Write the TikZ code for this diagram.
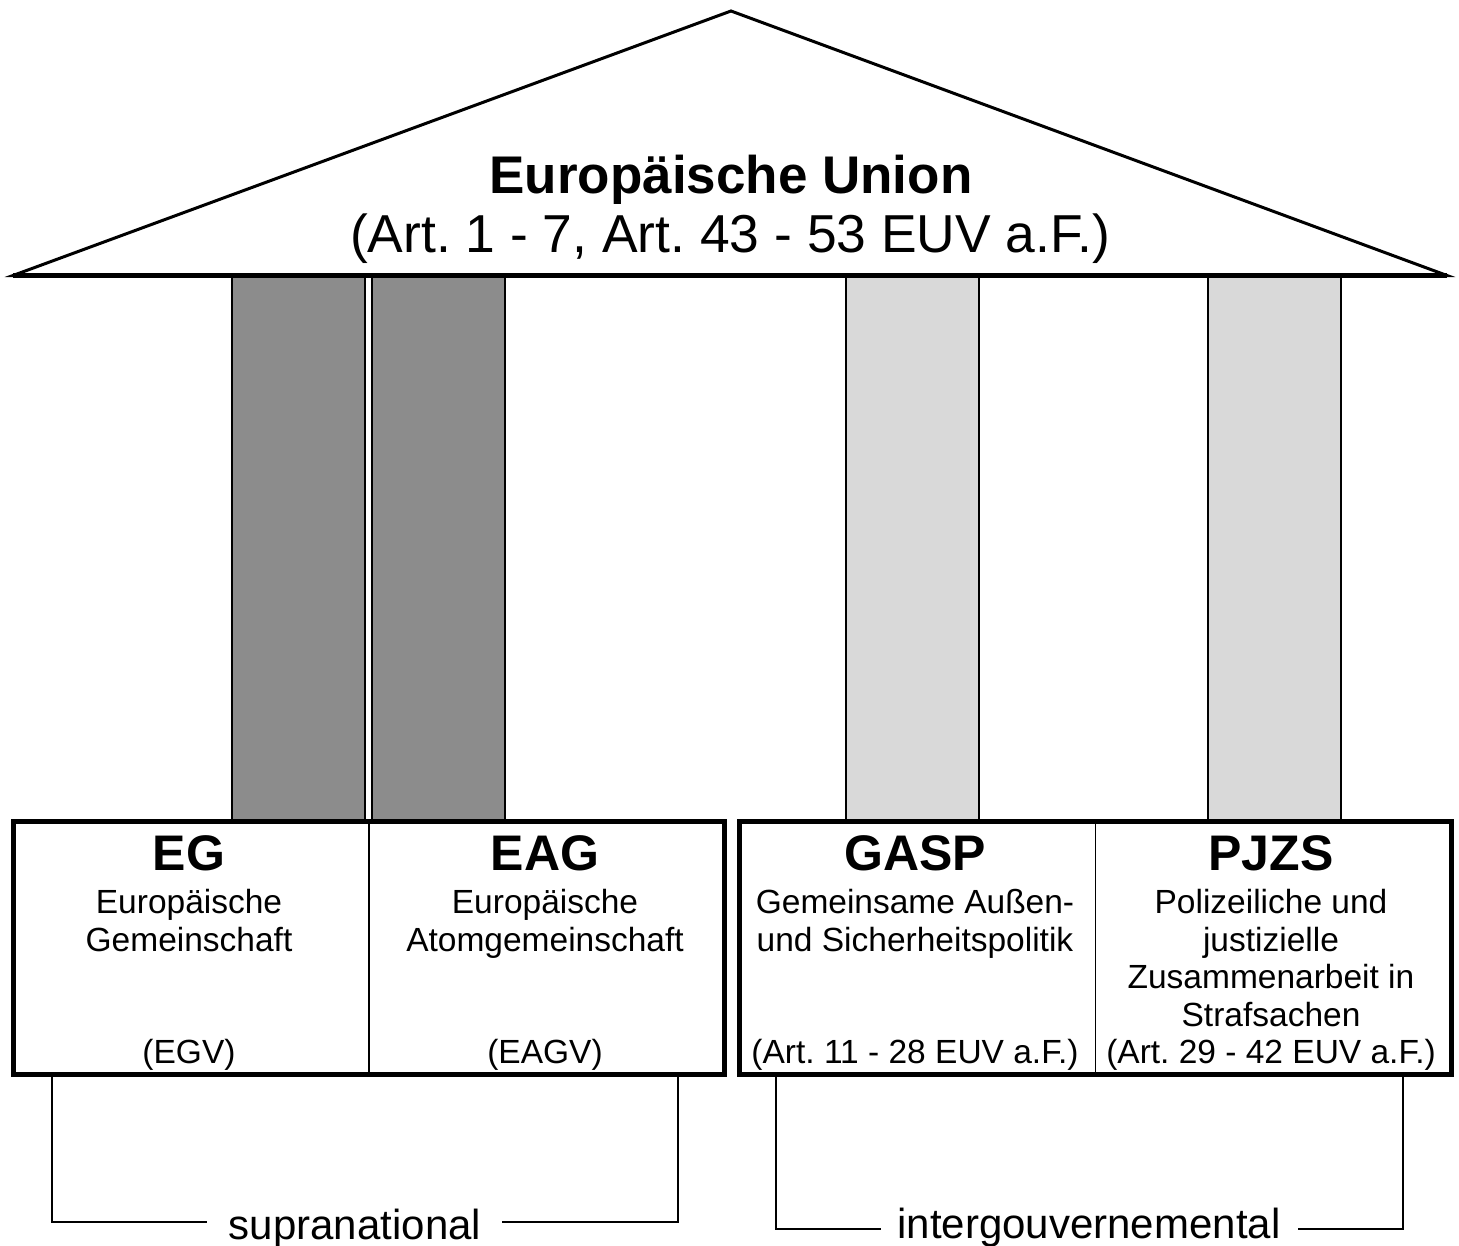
\documentclass[tikz,border=0pt]{standalone}
\usepackage{fontspec}
\setmainfont{Liberation Sans}
\frenchspacing
\definecolor{pdark}{HTML}{8C8C8C}
\definecolor{plight}{HTML}{D9D9D9}
\tikzset{
  roof/.style={draw=black, line width=3pt, fill=white, line join=miter},
  roofbase/.style={draw=black, line width=4.5pt},
  column/.style={draw=black, line width=1.5pt, minimum width=133pt, minimum height=544pt, inner sep=0pt, anchor=north west},
  darkcol/.style={column, fill=pdark},
  lightcol/.style={column, fill=plight},
  pillarbox/.style={draw=black, line width=4.5pt, fill=white, inner sep=0pt, anchor=north west, minimum height=253pt},
  divider/.style={draw=black, line width=1.5pt},
  bracketline/.style={draw=black, line width=2pt},
  titlebold/.style={font=\fontsize{53}{60}\selectfont\bfseries, anchor=base, inner sep=0pt},
  titlereg/.style={font=\fontsize{53.4}{60}\selectfont, anchor=base, inner sep=0pt},
  boxhead/.style={font=\fontsize{50}{58}\selectfont\bfseries, anchor=base, inner sep=0pt},
  boxtext/.style={font=\fontsize{33.5}{37}\selectfont, anchor=base, inner sep=0pt},
  grouplabel/.style={font=\fontsize{42}{48}\selectfont, anchor=base, inner sep=0pt}
}
\begin{document}
\begin{tikzpicture}[x=1pt,y=-1pt]
\useasboundingbox (0,0) rectangle (1459,1245);
% pillars
\node[darkcol]  (pEG)   at (231,276) {};
\node[darkcol]  (pEAG)  at (371,276) {};
\node[lightcol] (pGASP) at (845,276) {};
\node[lightcol] (pPJZS) at (1207,276) {};
% roof
\draw[roof] (13,275.5) -- (731,11) -- (1447,275.5) -- cycle;
\draw[roofbase] (13,275.5) -- (1447,275.5);
\node[titlebold] (eu) at (731,193) {Europäische Union};
\node[titlereg] (euart) at (730,252) {(Art. 1 - 7, Art. 43 - 53 EUV a.F.)};
% base boxes
\node[pillarbox, minimum width=711pt] (lbox) at (11,819) {};
\node[pillarbox, minimum width=712pt] (rbox) at (737,819) {};
\draw[divider] (lbox.north) -- (lbox.south);
\draw[divider] (rbox.north) -- (rbox.south);
% EG
\node[boxhead] (egh) at (189,870) {EG};
\node[boxtext] (eg1) at (189,913) {Europäische};
\node[boxtext] (eg2) at (189,951) {Gemeinschaft};
\node[boxtext] (eg3) at (189,1063) {(EGV)};
% EAG
\node[boxhead] (eagh) at (545,870) {EAG};
\node[boxtext] (eag1) at (545,913) {Europäische};
\node[boxtext] (eag2) at (545,951) {Atomgemeinschaft};
\node[boxtext] (eag3) at (545,1063) {(EAGV)};
% GASP
\node[boxhead] (gasph) at (915,870) {GASP};
\node[boxtext] (gasp1) at (915,913) {Gemeinsame Außen-};
\node[boxtext] (gasp2) at (915,951) {und Sicherheitspolitik};
\node[boxtext] (gasp3) at (915,1063) {(Art. 11 - 28 EUV a.F.)};
% PJZS
\node[boxhead] (pjzsh) at (1271,870) {PJZS};
\node[boxtext] (pjzs1) at (1271,913) {Polizeiliche und};
\node[boxtext] (pjzs2) at (1271,951) {justizielle};
\node[boxtext] (pjzs3) at (1271,988) {Zusammenarbeit in};
\node[boxtext] (pjzs4) at (1271,1026) {Strafsachen};
\node[boxtext] (pjzs5) at (1271,1063) {(Art. 29 - 42 EUV a.F.)};
% group brackets
\node[grouplabel] (sup) at (355,1239) {supranational};
\node[grouplabel] (inter) at (1089,1238) {intergouvernemental};
\coordinate (supA) at (52,1074);
\coordinate (supB) at (207,1222);
\coordinate (supC) at (502,1222);
\coordinate (supD) at (678,1074);
\coordinate (intA) at (776,1074);
\coordinate (intB) at (881,1229);
\coordinate (intC) at (1298,1229);
\coordinate (intD) at (1403,1074);
\draw[bracketline] (supA) |- (supB);
\draw[bracketline] (supC) -| (supD);
\draw[bracketline] (intA) |- (intB);
\draw[bracketline] (intC) -| (intD);
\end{tikzpicture}
\end{document}
